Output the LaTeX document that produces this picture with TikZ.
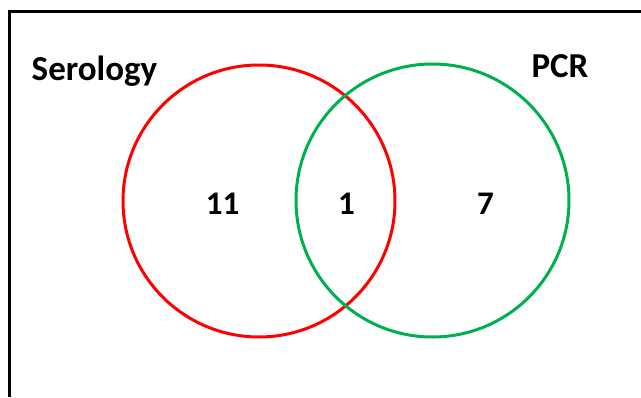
\documentclass[tikz,border=0pt]{standalone}
\usepackage{fontspec}
\setmainfont{Carlito}
\definecolor{vred}{RGB}{255,0,0}
\definecolor{vgreen}{RGB}{0,176,80}
\begin{document}
\begin{tikzpicture}[x=1pt,y=-1pt,
  setc/.style={line width=3pt},
  lbl/.style={anchor=base,inner sep=0pt,font=\fontsize{35}{37}\selectfont\bfseries},
  num/.style={anchor=base,inner sep=0pt,font=\fontsize{33}{35}\selectfont\bfseries}]
\useasboundingbox (0,0) rectangle (641,397);
\draw[line width=3pt] (9.5,397) -- (9.5,11.5) -- (641,11.5);
\node[setc,draw=vred,circle,minimum size=272pt,inner sep=0pt] (serc) at (259,201) {};
\node[setc,draw=vgreen,circle,minimum size=273pt,inner sep=0pt] (pcrc) at (432.5,200.5) {};
\node[lbl] (ser) at (94.5,80) {Serology};
\node[lbl] (pcr) at (560,77) {PCR};
\node[num] (n11) at (222.5,214) {11};
\node[num] (n1) at (346.5,214) {1};
\node[num] (n7) at (485.5,214) {7};
\end{tikzpicture}
\end{document}
